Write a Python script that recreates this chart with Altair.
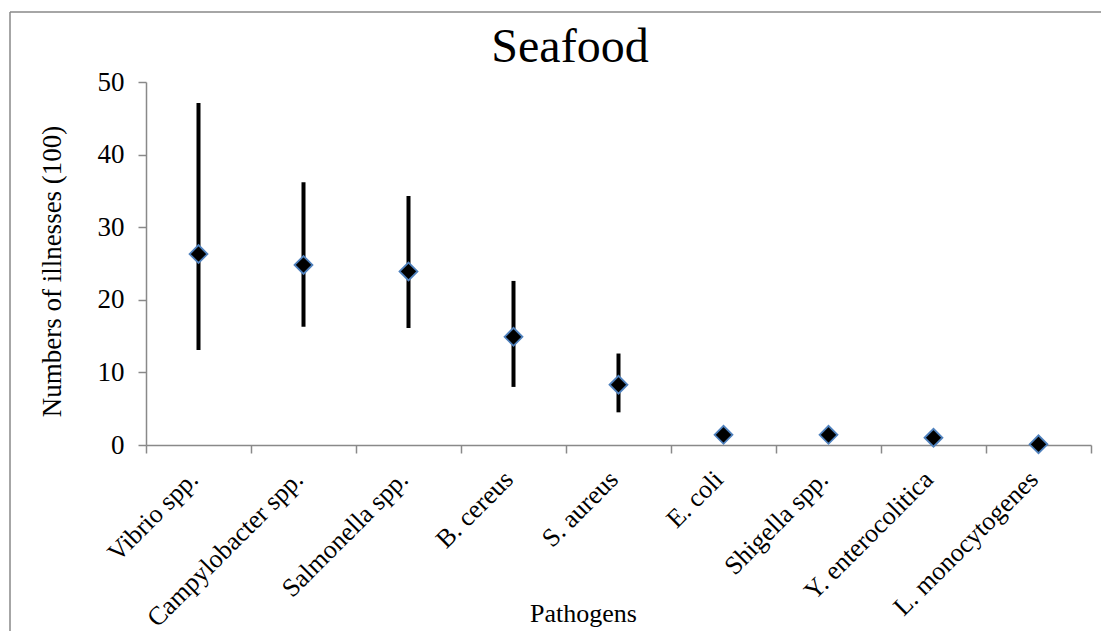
import altair as alt
import pandas as pd

pathogens = ["Vibrio spp.", "Campylobacter spp.", "Salmonella spp.", "B. cereus",
             "S. aureus", "E. coli", "Shigella spp.", "Y. enterocolitica", "L. monocytogenes"]
mean = [26.3, 24.8, 23.9, 14.9, 8.3, 1.4, 1.4, 1.0, 0.1]
low = [13.1, 16.3, 16.1, 8.0, 4.5, 1.4, 1.4, 1.0, 0.1]
high = [47.1, 36.2, 34.3, 22.6, 12.6, 1.4, 1.4, 1.0, 0.1]
title_text = ["Seafood"]

df = pd.DataFrame({"pathogen": pathogens, "mean": mean, "low": low, "high": high})

FONT = "Liberation Serif"
GRAY = "#898989"

x = alt.X("pathogen:N", sort=pathogens,
          scale=alt.Scale(paddingInner=0, paddingOuter=0),
          axis=alt.Axis(title="Pathogens", labelAngle=-45, labelAlign="right",
                        labelBaseline="middle", labelPadding=22, labelOffset=-5,
                        labelLimit=400, labelFontSize=26, tickBand="extent",
                        titleFontSize=26, titleX=437, titleY=176,
                        titleBaseline="alphabetic", titleAnchor="middle"))
y_scale = alt.Scale(domain=[0, 50], nice=False)

bars = alt.Chart(df).mark_rule(color="black", strokeWidth=4).encode(
    x=x,
    y=alt.Y("low:Q", scale=y_scale,
            axis=alt.Axis(title="Numbers of illnesses (100)", values=[0, 10, 20, 30, 40, 50],
                          labelPadding=14, labelFontSize=27, titleFontSize=27,
                          titleX=-94, titleY=189, titleBaseline="middle",
                          titleAnchor="middle")),
    y2="high:Q",
)

pts = alt.Chart(df).mark_point(shape="diamond", filled=True, fill="black", size=320,
                               stroke="#4f81bd", strokeWidth=1.8, opacity=1).encode(
    x=alt.X("pathogen:N", sort=pathogens),
    y=alt.Y("mean:Q", scale=y_scale),
)

frame_left = alt.Chart(df.head(1)).mark_rule(color=GRAY, strokeWidth=1.5).encode(
    x=alt.value(-136), y=alt.value(-70), y2=alt.value(560))
frame_top = alt.Chart(df.head(1)).mark_rule(color=GRAY, strokeWidth=1.5).encode(
    x=alt.value(-136), x2=alt.value(970), y=alt.value(-70))

title = alt.Chart(pd.DataFrame({"t": title_text})).mark_text(
    font=FONT, fontSize=48, color="black", align="center", baseline="alphabetic"
).encode(text="t:N", x=alt.value(424), y=alt.value(-20))

chart = alt.layer(frame_left, frame_top, bars, pts, title).properties(
    width=945, height=363,
    autosize=alt.AutoSizeParams(type="none"),
    padding={"left": 138, "top": 74, "right": 10, "bottom": 186},
).configure_view(stroke=None).configure_axis(
    labelFont=FONT, titleFont=FONT,
    labelColor="black", titleColor="black", titleFontWeight="normal",
    domainColor=GRAY, tickColor=GRAY, domainWidth=1.5, tickWidth=1.5, tickSize=8,
    grid=False,
)

chart.save("out.html", embed_options={"renderer": "svg", "actions": False})
